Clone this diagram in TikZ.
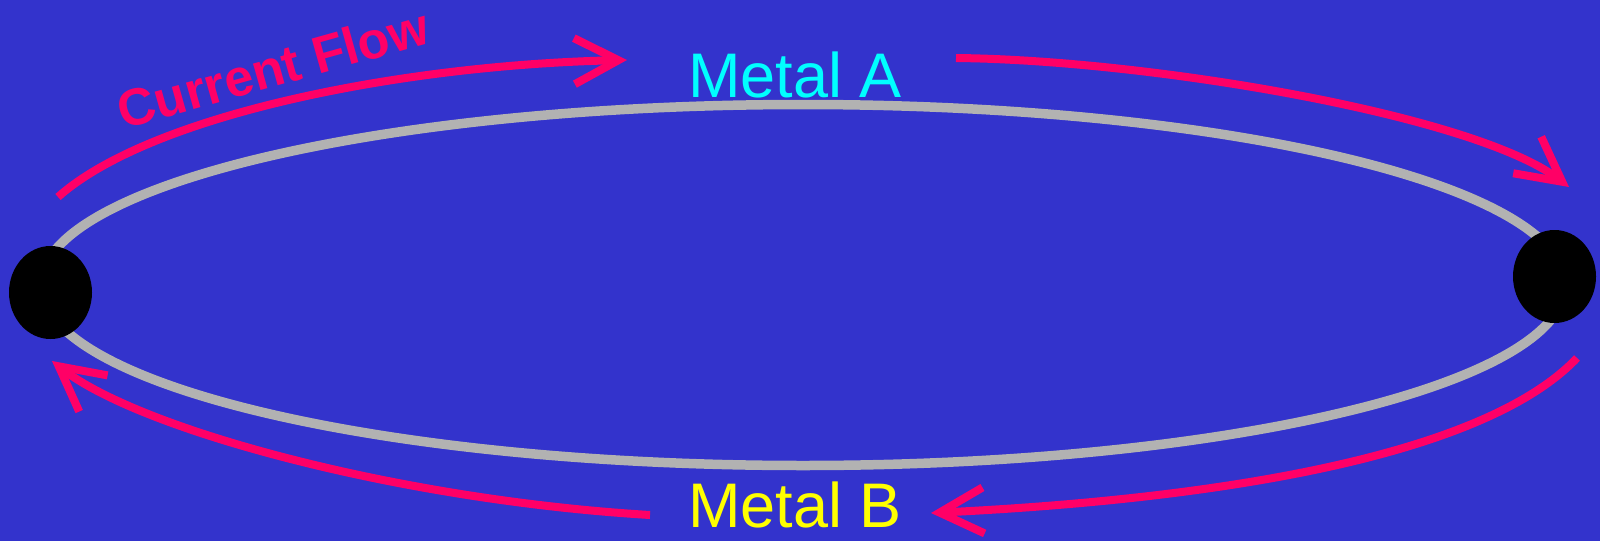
\documentclass[tikz,border=0pt]{standalone}
\usepackage{fontspec}
\setmainfont{Liberation Sans}
\usetikzlibrary{arrows.meta,shapes.geometric}
\definecolor{bgblue}{RGB}{51,51,204}
\definecolor{wiregray}{RGB}{178,178,178}
\definecolor{flowpink}{RGB}{255,0,102}
\definecolor{metalcyan}{RGB}{0,255,255}
\definecolor{metalyellow}{RGB}{255,255,0}
\tikzset{
  junction/.style={ellipse, fill=black, inner sep=0pt, minimum width=83pt, minimum height=93pt},
  flowarrow/.style={draw=flowpink, line width=8pt, line cap=butt,
    -{Straight Barb[length=44pt,width=46pt,line cap=butt,line join=miter]}},
  metallabel/.style={anchor=base, inner sep=0pt, font=\fontsize{63}{63}\selectfont},
}
\begin{document}
\begin{tikzpicture}[x=1pt,y=-1pt]
\fill[bgblue] (0,0) rectangle (1600,541);
\useasboundingbox (0,0) rectangle (1600,541);
% loop
\draw[wiregray, line width=9.5pt] (803,285) ellipse [x radius=762, y radius=180.5];
% junctions
\node[junction] (jl) at (50.5,292.5) {};
\node[junction] (jr) at (1554.5,276.5) {};
% labels
\node[metallabel, text=metalcyan] (ma) at (795,97) {Metal A};
\node[metallabel, text=metalyellow] (mb) at (795,527) {Metal B};
\node[text=flowpink, inner sep=0pt, rotate=15.7, font=\bfseries\fontsize{52}{52}\selectfont] (cf) at (273,68) {Current Flow};
% arrow end points
\coordinate (a1s) at (58,197);
\coordinate (a1e) at (627,60);
\coordinate (a2s) at (956,58);
\coordinate (a2e) at (1569,187);
\coordinate (a3s) at (1577,358);
\coordinate (a3e) at (931,513);
\coordinate (a4s) at (650,515);
\coordinate (a4e) at (52,361);
\draw[flowarrow] (a1s) .. controls (150,115) and (400,65) .. (a1e);
\draw[flowarrow] (a2s) .. controls (1150,60) and (1475,115) .. (a2e);
\draw[flowarrow] (a3s) .. controls (1480,460) and (1200,500) .. (a3e);
\draw[flowarrow] (a4s) .. controls (400,500) and (140,430) .. (a4e);
\end{tikzpicture}
\end{document}
